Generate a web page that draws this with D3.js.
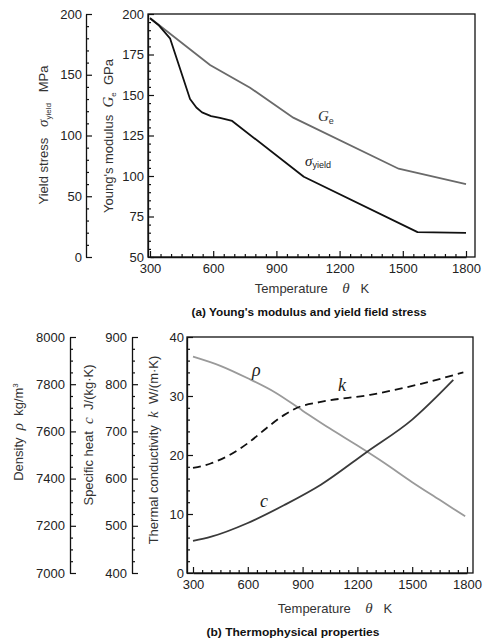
<!DOCTYPE html>
<html><head><meta charset="utf-8">
<script src="https://cdn.jsdelivr.net/npm/d3@7"></script>
<style>
body{margin:0;background:#fff;}
svg{display:block;font-family:"Liberation Sans",Arial,sans-serif;}
svg text{white-space:pre;}
.tick text{font-size:13px;fill:#222;}
.domain{stroke:#111;stroke-width:1.3;}
.tick line{stroke:#111;stroke-width:1.2;}
</style></head>
<body>
<svg id="c" width="484" height="640"></svg>
<script>
// ---- Data: (a) Young's modulus and yield stress ----
const geTemps   = [300, 585, 775, 980, 1480, 1800];
const geValues  = [197.5, 168.5, 154.5, 136, 104.5, 95];
const yieldTemps  = [300, 340, 395, 490, 520, 547, 590, 632, 690, 1030, 1570, 1800];
const yieldValues = [196.5, 191, 180, 130, 123, 119, 116, 114.5, 112, 66, 20.5, 19.8];

// ---- Data: (b) thermophysical properties ----
const rhoTemps  = [300, 450, 600, 750, 900, 1050, 1200, 1350, 1500, 1650, 1790];
const rhoValues = [7917, 7878, 7825, 7765, 7688, 7612, 7540, 7465, 7385, 7310, 7240];
const kTemps  = [300, 400, 500, 600, 700, 800, 870, 1000, 1270, 1540, 1780];
const kValues = [17.8, 18.6, 20, 22, 24.5, 26.8, 28, 29, 30.2, 32, 34];
const cTemps  = [300, 400, 600, 800, 1000, 1250, 1500, 1725];
const cValues = [468, 477, 506, 544, 587, 656, 725, 809];

// ---- Tick labels ----
const tempTicks = [300, 600, 900, 1200, 1500, 1800];
const geTicks = [50, 75, 100, 125, 150, 175, 200];
const yieldTicks = [0, 50, 100, 150, 200];
const rhoTicks = [7000, 7200, 7400, 7600, 7800, 8000];
const cTicks = [400, 500, 600, 700, 800, 900];
const kTicks = [0, 10, 20, 30, 40];

const svg = d3.select("#c");
const range = (a, b, s) => d3.range(a, b + s / 2, s);

function addAxis(g, axisFn, scale, major, minor, len, pad) {
  const a = axisFn(scale).tickValues(major).tickSizeInner(-len).tickSizeOuter(0)
    .tickPadding(pad).tickFormat(d3.format("d"));
  g.call(a);
  const m = axisFn(scale).tickValues(minor.filter(v => major.indexOf(v) < 0))
      .tickSizeInner(-len / 2).tickSizeOuter(0).tickFormat("");
  g.append("g").call(m).select(".domain").remove();
}

// =========== Chart (a) ===========
const xA = d3.scaleLinear([300, 1800], [150, 466]);
const yGe = d3.scaleLinear([50, 200], [257, 14]);
const yYs = d3.scaleLinear([0, 200], [257, 14]);
const boxA = {x0: 148, x1: 475, y0: 14, y1: 257};

svg.append("rect").attr("x", boxA.x0).attr("y", boxA.y0)
  .attr("width", boxA.x1 - boxA.x0).attr("height", boxA.y1 - boxA.y0)
  .attr("fill", "none").attr("stroke", "#111").attr("stroke-width", 1.3);

addAxis(svg.append("g").attr("transform", `translate(0,${boxA.y1})`), d3.axisBottom, xA,
  tempTicks, range(300, 1800, 50), 6, 7);
addAxis(svg.append("g").attr("transform", `translate(${boxA.x0},0)`), d3.axisLeft, yGe,
  geTicks, range(50, 200, 5), 6, 4);
addAxis(svg.append("g").attr("transform", `translate(86,0)`), d3.axisLeft, yYs,
  yieldTicks, range(0, 200, 10), 6, 4);

const lineGe = d3.line().x((d, i) => xA(geTemps[i])).y(d => yGe(d));
svg.append("path").attr("d", lineGe(geValues)).attr("fill", "none")
  .attr("stroke", "#6a6a6a").attr("stroke-width", 1.8);
const lineYs = d3.line().x((d, i) => xA(yieldTemps[i])).y(d => yYs(d));
svg.append("path").attr("d", lineYs(yieldValues)).attr("fill", "none")
  .attr("stroke", "#111").attr("stroke-width", 1.8).attr("stroke-linejoin", "round");

// curve labels (a)
const geLab = svg.append("text").attr("x", 318).attr("y", 121)
  .attr("font-family", "Liberation Serif, serif").attr("font-size", 15).attr("font-style", "italic").attr("fill", "#333");
geLab.append("tspan").text("G");
geLab.append("tspan").attr("dy", 3).attr("font-size", 9).attr("font-style", "normal").attr("font-family","Liberation Sans, sans-serif").text("e");
const syLab = svg.append("text").attr("x", 305).attr("y", 166)
  .attr("font-family", "Liberation Serif, serif").attr("font-size", 15).attr("font-style", "italic").attr("fill", "#222");
syLab.append("tspan").text("σ");
syLab.append("tspan").attr("dy", 2).attr("font-size", 9).attr("font-style", "normal").attr("font-family","Liberation Sans, sans-serif").text("yield");

// axis titles
function vTitle(x, y, parts) {
  const t = svg.append("text").attr("transform", `translate(${x},${y}) rotate(-90)`)
    .attr("text-anchor", "middle").attr("font-size", 13).attr("fill", "#333");
  parts.forEach(p => {
    const s = t.append("tspan").text(p.t);
    if (p.it) s.attr("font-style", "italic").attr("font-family", "Liberation Serif, serif").attr("font-size", 15);
    if (p.small) s.attr("font-size", 8).attr("dy", p.dy);
    if (p.back) s.attr("dy", p.back);
  });
  return t;
}
vTitle(48, 135, [{t: "Yield stress   "}, {t: "σ", it: 1}, {t: "yield", small: 1, dy: 3}, {t: "   MPa", back: -3}]);
vTitle(113, 136, [{t: "Young's modulus  "}, {t: "G", it: 1}, {t: "e", small: 1, dy: 3}, {t: "  GPa", back: -3}]);

function hTitle(x, y) {
  const t = svg.append("text").attr("x", x).attr("y", y).attr("text-anchor", "middle")
    .attr("font-size", 13).attr("fill", "#333");
  t.append("tspan").text("Temperature    ");
  t.append("tspan").attr("font-style", "italic").attr("font-family", "Liberation Serif, serif").attr("font-size", 15).text("θ");
  t.append("tspan").text("   K");
}
hTitle(312, 293);
svg.append("text").attr("x", 309).attr("y", 316).attr("text-anchor", "middle")
  .attr("font-size", 10.5).attr("font-weight", "bold").attr("fill", "#111")
  .attr("textLength", 235).attr("lengthAdjust", "spacingAndGlyphs")
  .text("(a) Young's modulus and yield field stress");

// =========== Chart (b) ===========
const xB = d3.scaleLinear([300, 1800], [193, 467]);
const yK = d3.scaleLinear([0, 40], [573, 337]);
const yRho = d3.scaleLinear([7000, 8000], [573, 337]);
const yC = d3.scaleLinear([400, 900], [573, 337]);
const boxB = {x0: 187, x1: 473, y0: 337, y1: 573};

svg.append("rect").attr("x", boxB.x0).attr("y", boxB.y0)
  .attr("width", boxB.x1 - boxB.x0).attr("height", boxB.y1 - boxB.y0)
  .attr("fill", "none").attr("stroke", "#111").attr("stroke-width", 1.3);

addAxis(svg.append("g").attr("transform", `translate(0,${boxB.y1})`), d3.axisBottom, xB,
  tempTicks, range(300, 1800, 50), 6, 7);
addAxis(svg.append("g").attr("transform", `translate(${boxB.x0},0)`), d3.axisLeft, yK,
  kTicks, range(0, 40, 2), 6, 3);
addAxis(svg.append("g").attr("transform", `translate(70,0)`), d3.axisLeft, yRho,
  rhoTicks, range(7000, 8000, 50), 6, 5);
addAxis(svg.append("g").attr("transform", `translate(132,0)`), d3.axisLeft, yC,
  cTicks, range(400, 900, 25), 6, 5);

const lineRho = d3.line().x((d, i) => xB(rhoTemps[i])).y(d => yRho(d)).curve(d3.curveMonotoneX);
svg.append("path").attr("d", lineRho(rhoValues)).attr("fill", "none")
  .attr("stroke", "#9a9a9a").attr("stroke-width", 1.8);
const lineK = d3.line().x((d, i) => xB(kTemps[i])).y(d => yK(d)).curve(d3.curveMonotoneX);
svg.append("path").attr("d", lineK(kValues)).attr("fill", "none")
  .attr("stroke", "#111").attr("stroke-width", 1.8).attr("stroke-dasharray", "8,5");
const lineC = d3.line().x((d, i) => xB(cTemps[i])).y(d => yC(d)).curve(d3.curveMonotoneX);
svg.append("path").attr("d", lineC(cValues)).attr("fill", "none")
  .attr("stroke", "#3a3a3a").attr("stroke-width", 1.8);

function curveLab(x, y, s) {
  svg.append("text").attr("x", x).attr("y", y).attr("font-family", "Liberation Serif, serif")
    .attr("font-style", "italic").attr("font-size", 18).attr("fill", "#222").text(s);
}
curveLab(252, 376, "ρ");
curveLab(338, 391, "k");
curveLab(260, 507, "c");

vTitle(23, 432, [{t: "Density  "}, {t: "ρ", it: 1}, {t: "  kg/m"}, {t: "3", small: 1, dy: -5}]);
vTitle(93, 435, [{t: "Specific heat  "}, {t: "c", it: 1}, {t: "  J/(kg·K)"}]);
vTitle(158, 450, [{t: "Thermal conductivity  "}, {t: "k", it: 1}, {t: "  W/(m·K)"}]);
hTitle(335, 613);
svg.append("text").attr("x", 293).attr("y", 636).attr("text-anchor", "middle")
  .attr("font-size", 10.5).attr("font-weight", "bold").attr("fill", "#111")
  .attr("textLength", 173).attr("lengthAdjust", "spacingAndGlyphs")
  .text("(b) Thermophysical properties");
</script>
</body></html>
